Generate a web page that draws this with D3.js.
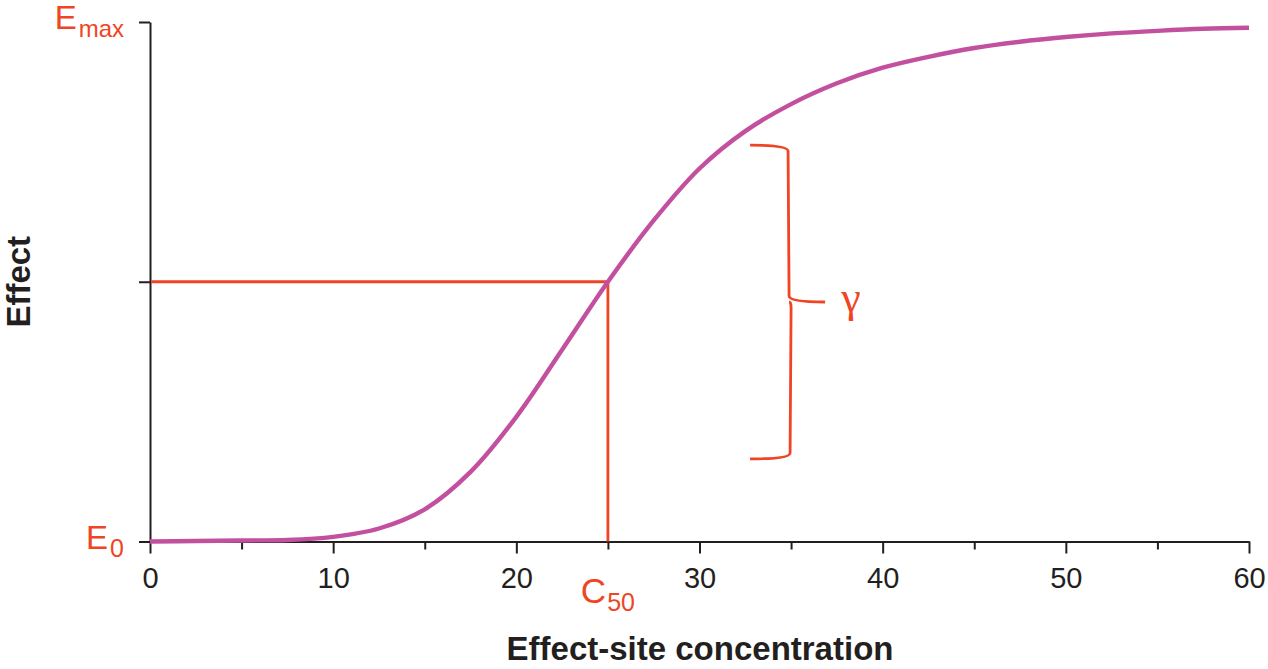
<!DOCTYPE html>
<html>
<head>
<meta charset="utf-8">
<script src="https://cdn.jsdelivr.net/npm/d3@7"></script>
<style>
  html, body { margin: 0; padding: 0; background: #fff; }
  svg { display: block; font-family: 'Liberation Sans', Arial, sans-serif; }
</style>
</head>
<body>
<div id="chart"></div>
<script>
// concentration values
const conc = [0, 2.5, 5, 7.5, 10, 12.5, 15, 17.5, 20, 22.5, 25, 27.5, 30, 32.5, 35, 37.5, 40, 42.5, 45, 47.5, 50, 52.5, 55, 57.5, 60]
// effect as fraction of (Emax - E0)
const effect = [0, 0.001, 0.002, 0.003, 0.009, 0.025, 0.062, 0.134, 0.240, 0.369, 0.5, 0.618, 0.718, 0.790, 0.842, 0.882, 0.912, 0.933, 0.950, 0.962, 0.971, 0.978, 0.983, 0.987, 0.989]

const majorTicks = [0, 10, 20, 30, 40, 50, 60]
const minorTicks = [5, 15, 25, 35, 45, 55]
const yTicks = [0, 0.5, 1]

const c50 = 25
const bracketRange = [0.159, 0.763] // effect span covered by the gamma brace
const bracketX = 35

const width = 1268, height = 669
const red = '#ef4524', pink = '#c2509f', ink = '#231f20'

const x = d3.scaleLinear().domain([0, 60]).range([150, 1249])
const y = d3.scaleLinear().domain([0, 1]).range([541.5, 22])

const svg = d3.select('#chart')
  .append('svg')
  .attr('width', width)
  .attr('height', height)

// Y axis
svg.append('g')
  .attr('transform', `translate(${x(0)},0)`)
  .call(d3.axisLeft(y).tickValues(yTicks).tickSize(11).tickSizeOuter(0).tickFormat(''))
  .call(g => g.selectAll('line, path').attr('stroke', ink).attr('stroke-width', 2))

// X axis, major and minor ticks
svg.append('g')
  .attr('transform', `translate(0,${y(0)})`)
  .call(d3.axisBottom(x).tickValues(minorTicks).tickSize(8).tickSizeOuter(0).tickFormat(''))
  .call(g => g.selectAll('line, path').attr('stroke', ink).attr('stroke-width', 2))

svg.append('g')
  .attr('transform', `translate(0,${y(0)})`)
  .call(d3.axisBottom(x).tickValues(majorTicks).tickSize(12).tickSizeOuter(0).tickPadding(14))
  .call(g => g.select('.domain').remove())
  .call(g => g.selectAll('line').attr('stroke', ink).attr('stroke-width', 2))
  .call(g => g.selectAll('text')
    .attr('fill', ink)
    .attr('font-size', 29)
    .attr('font-family', "'Liberation Sans', Arial, sans-serif"))

// C50 guide lines
svg.append('path')
  .attr('fill', 'none')
  .attr('stroke', red)
  .attr('stroke-width', 2.8)
  .attr('d', `M${x(0) + 1},${y(0.5)}H${x(c50)}V${y(0)}`)

// the concentration-effect curve
const pts = conc.map((c, i) => [c, effect[i]])
svg.append('path')
  .datum(pts)
  .attr('fill', 'none')
  .attr('stroke', pink)
  .attr('stroke-width', 4.4)
  .attr('d', d3.line().x(d => x(d[0])).y(d => y(d[1])).curve(d3.curveCatmullRom.alpha(0.5)))

// gamma brace
const bx = x(bracketX) - 3
const yTop = y(bracketRange[1]), yBot = y(bracketRange[0])
const yMid = (yTop + yBot) / 2
svg.append('path')
  .attr('fill', 'none')
  .attr('stroke', red)
  .attr('stroke-width', 2.8)
  .attr('d', `M${bx - 38},${yTop} Q${bx},${yTop} ${bx},${yTop + 6}
    L${bx + 1},${yMid - 6} Q${bx + 1},${yMid} ${bx + 37},${yMid}
    M${bx + 1},${yMid} Q${bx + 3},${yMid} ${bx + 3},${yMid + 6}
    L${bx + 2},${yBot - 6} Q${bx + 2},${yBot} ${bx - 38},${yBot}`)

svg.append('text')
  .attr('x', bx + 63)
  .attr('y', yMid + 10)
  .attr('text-anchor', 'middle')
  .attr('fill', red)
  .attr('font-size', 44)
  .attr('font-family', "'Liberation Serif', serif")
  .text('γ')

// axis end labels
const emax = svg.append('text')
  .attr('x', 124).attr('y', 29)
  .attr('text-anchor', 'end')
  .attr('fill', red)
emax.append('tspan').attr('font-size', 33).text('E')
emax.append('tspan').attr('font-size', 24).attr('dy', 8).attr('dx', 2).text('max')

const e0 = svg.append('text')
  .attr('x', 124).attr('y', y(0) + 7)
  .attr('text-anchor', 'end')
  .attr('fill', red)
e0.append('tspan').attr('font-size', 33).text('E')
e0.append('tspan').attr('font-size', 25).attr('dy', 8).attr('dx', 2).text('0')

const c50Label = svg.append('text')
  .attr('x', x(c50)).attr('y', 603)
  .attr('text-anchor', 'middle')
  .attr('fill', red)
c50Label.append('tspan').attr('font-size', 35).text('C')
c50Label.append('tspan').attr('font-size', 25).attr('dy', 8).attr('dx', 1).text('50')

// axis titles
svg.append('text')
  .attr('x', 700).attr('y', 660)
  .attr('text-anchor', 'middle')
  .attr('fill', ink)
  .attr('font-size', 33)
  .attr('font-weight', 'bold')
  .text('Effect-site concentration')

svg.append('text')
  .attr('transform', `translate(30,${y(0.5)}) rotate(-90)`)
  .attr('text-anchor', 'middle')
  .attr('fill', ink)
  .attr('font-size', 33)
  .attr('font-weight', 'bold')
  .text('Effect')
</script>
</body>
</html>
